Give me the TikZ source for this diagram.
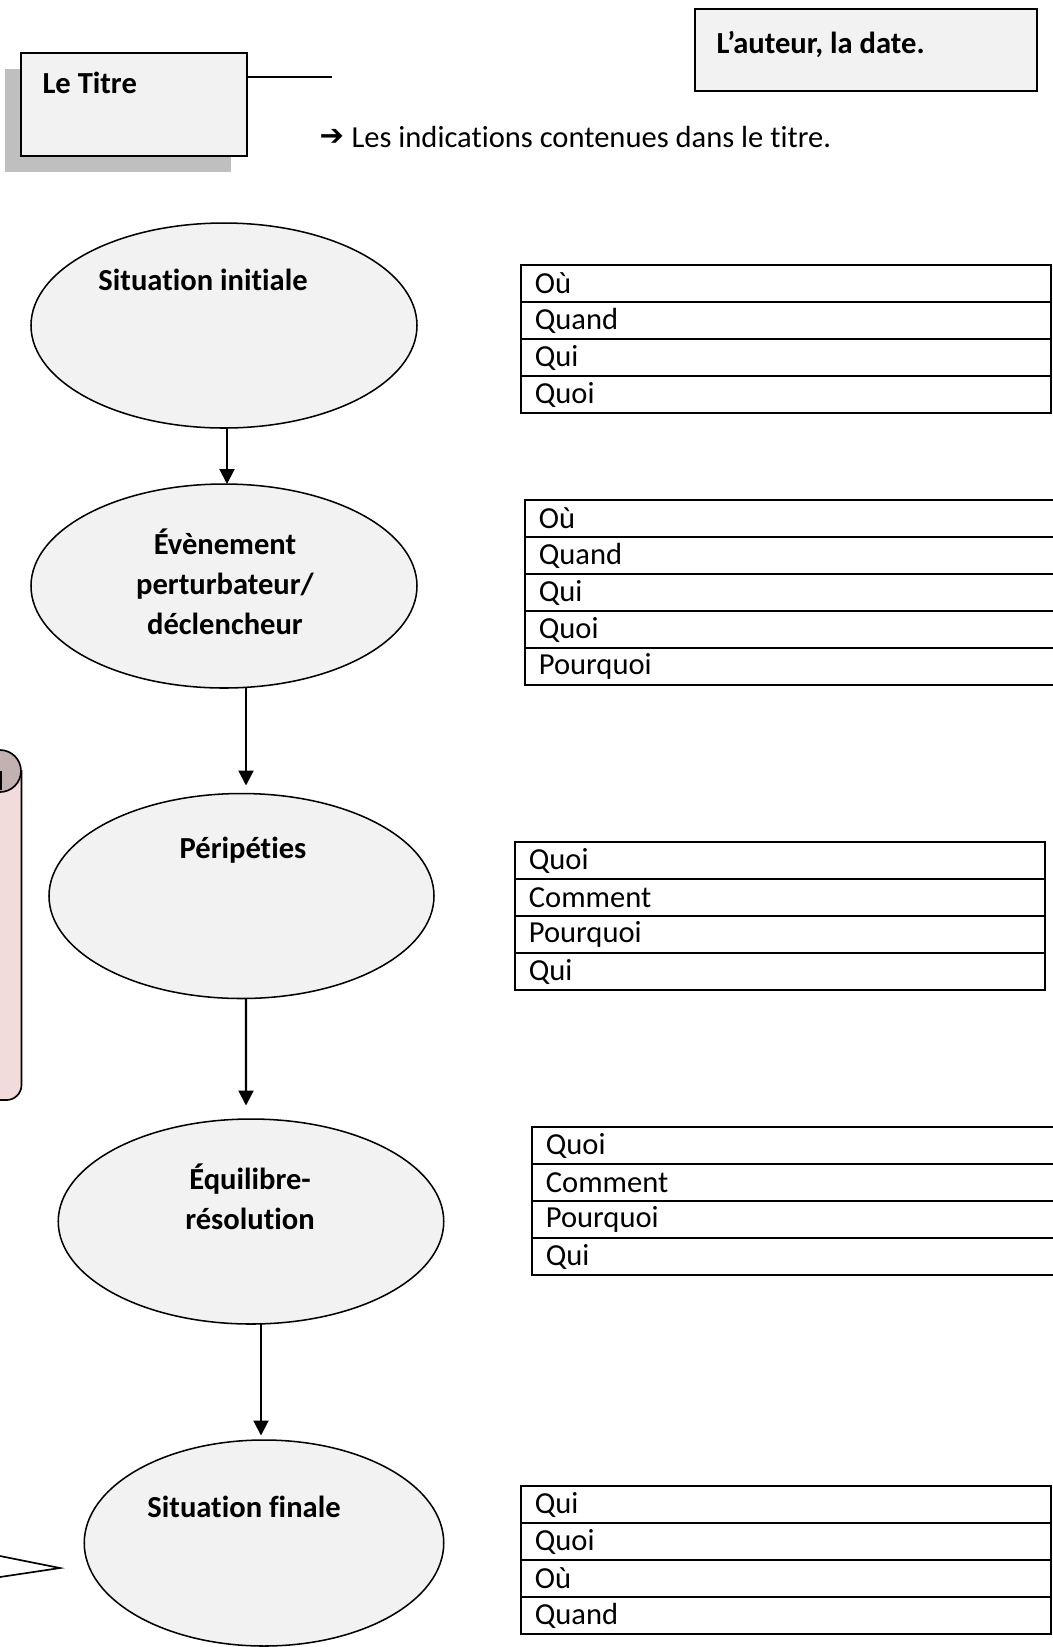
\documentclass[tikz,border=0pt]{standalone}
\usepackage{fontspec}
\setmainfont{Carlito}[Ligatures={NoCommon,NoRequired,NoContextual}, Contextuals={NoAlternate}, RawFeature={-liga;-dlig;-calt}]
\newfontfamily\symbfont{DejaVu Sans}
\usetikzlibrary{shapes.geometric,arrows.meta,positioning,shadows}
\definecolor{boxgray}{HTML}{F2F2F2}
\definecolor{shadowgray}{HTML}{BFBFBF}
\definecolor{scrollpink}{HTML}{F2DCDB}
\definecolor{scrolldark}{HTML}{C2B1B0}

\begin{document}
\begin{tikzpicture}[
        x=0.36pt, y=-0.36pt,
        every node/.style={font=\fontsize{11}{14.4}\selectfont},
        frame/.style={rectangle, draw, fill=boxgray, line width=0.6pt, outer sep=0pt, inner sep=0pt, anchor=north west},
        ell/.style={ellipse, draw, fill=boxgray, line width=0.55pt, inner sep=0pt, outer sep=0pt},
        eltext/.style={inner sep=0pt, align=center, font=\fontsize{11}{14.4}\selectfont\bfseries},
        cell/.style={rectangle, draw, line width=0.75pt, outer sep=0pt, inner xsep=5pt, inner ysep=0pt, minimum height=13.32pt, text width=180.8pt, align=left},
        widecell/.style={cell, text width=230pt},
        arrow/.style={-{Triangle[length=5.4pt,width=5.4pt]}, line width=0.75pt}
    ]
        \useasboundingbox (0,0) rectangle (1053,1647);
        \clip (0,0) rectangle (1053,1647);

        % Title and author
        \node[frame, minimum width=81.36pt, minimum height=37.08pt,
              drop shadow={shadow xshift=-5.76pt, shadow yshift=-5.76pt, fill=shadowgray, opacity=1}] (titre) at (21,53) {};
        \node[eltext, anchor=west] (titretxt) at (42,83) {Le Titre};
        \coordinate (titreend) at (332,77);
        \draw[line width=0.8pt] (titre.east |- titreend) -- (titreend);
        \node[inner sep=0pt, anchor=west, font=\fontsize{10.5}{10.5}\selectfont\symbfont\bfseries] (indicarrow) at (319,137) {➔};
        \node[inner sep=0pt, anchor=west] (indic) at (351,137) {Les indications contenues dans le titre.};

        \node[frame, line width=0.75pt, minimum width=123.12pt, minimum height=29.52pt] (auteur) at (695,9) {};
        \node[eltext, anchor=west] (auteurtxt) at (716,44) {L’auteur, la date.};

        % Scroll and callout on the left
        \filldraw[fill=scrollpink, line width=0.6pt] (-30,771) -- (21.5,771) -- (21.5,1085)
            arc[start angle=0, end angle=90, radius=15] -- (-30,1100);
        \filldraw[fill=scrolldark, line width=0.6pt] (0,771) circle[radius=7.56pt];
        \draw[line width=0.6pt] (1,771) -- (1,790);
        \coordinate (wedgetip) at (60,1568);
        \draw[line width=0.6pt] (-40,1548) -- (wedgetip) -- (-40,1583);

        % Ellipses
        \node[ell, minimum width=138.96pt, minimum height=73.8pt] (e1) at (224,325.5) {};
        \node[ell, minimum width=138.96pt, minimum height=73.44pt] (e2) at (224,586) {};
        \node[ell, minimum width=138.6pt, minimum height=73.8pt] (e3) at (241.5,896) {};
        \node[ell, minimum width=138.78pt, minimum height=73.8pt] (e4) at (251,1221.5) {};
        \node[ell, minimum width=129.42pt, minimum height=74.16pt] (e5) at (264,1543) {};

        \node[eltext] (et1) at (203,280) {Situation initiale};
        \node[eltext] (et2) at (225,582) {Évènement\\perturbateur/\\déclencheur};
        \node[eltext] (et3) at (243,850) {Péripéties};
        \node[eltext] (et4) at (250,1197) {Équilibre-\\résolution};
        \node[eltext] (et5) at (244,1507) {Situation finale};

        % Arrows
        \draw[arrow] ([xshift=1.08pt]e1.south) -- ([xshift=1.08pt]e2.north);
        \draw[arrow] ([xshift=7.92pt]e2.south) -- ([xshift=1.62pt, yshift=2.88pt]e3.north);
        \draw[arrow] ([xshift=1.62pt]e3.south) -- ([xshift=-1.8pt, yshift=4.86pt]e4.north);
        \draw[arrow] ([xshift=3.6pt]e4.south) -- ([xshift=-1.08pt, yshift=1.62pt]e5.north);

        % Tables
        \node[cell, anchor=north west] (t1a) at (521,265) {Où};
        \node[cell, below=0pt of t1a] (t1b) {Quand};
        \node[cell, below=0pt of t1b] (t1c) {Qui};
        \node[cell, below=0pt of t1c] (t1d) {Quoi};

        \node[widecell, anchor=north west] (t2a) at (525,500) {Où};
        \node[widecell, below=0pt of t2a] (t2b) {Quand};
        \node[widecell, below=0pt of t2b] (t2c) {Qui};
        \node[widecell, below=0pt of t2c] (t2d) {Quoi};
        \node[widecell, below=0pt of t2d] (t2e) {Pourquoi};

        \node[cell, anchor=north west] (t3a) at (515,842) {Quoi};
        \node[cell, below=0pt of t3a] (t3b) {Comment};
        \node[cell, below=0pt of t3b] (t3c) {Pourquoi};
        \node[cell, below=0pt of t3c] (t3d) {Qui};

        \node[widecell, anchor=north west] (t4a) at (532,1127) {Quoi};
        \node[widecell, below=0pt of t4a] (t4b) {Comment};
        \node[widecell, below=0pt of t4b] (t4c) {Pourquoi};
        \node[widecell, below=0pt of t4c] (t4d) {Qui};

        \node[cell, anchor=north west] (t5a) at (521,1486) {Qui};
        \node[cell, below=0pt of t5a] (t5b) {Quoi};
        \node[cell, below=0pt of t5b] (t5c) {Où};
        \node[cell, below=0pt of t5c] (t5d) {Quand};
    \end{tikzpicture}
\end{document}
